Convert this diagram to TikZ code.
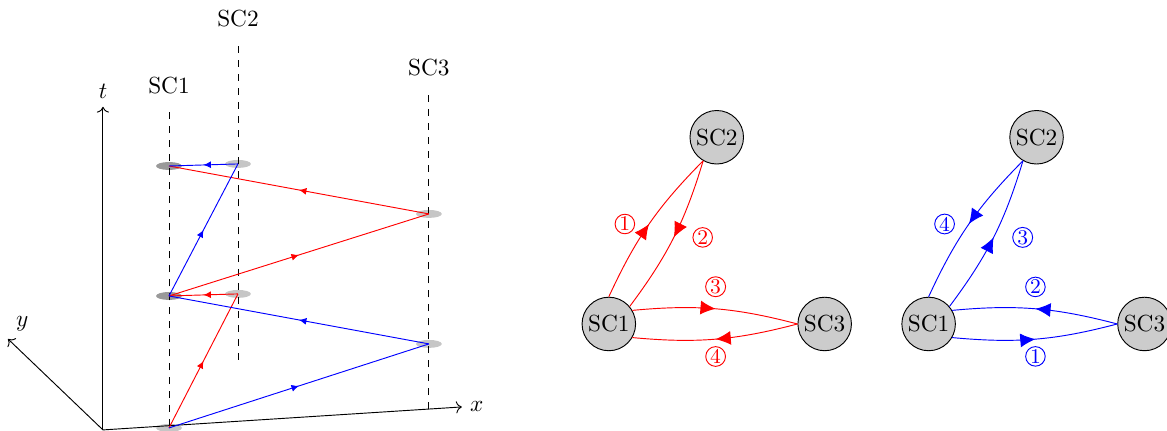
\documentclass[tikz,border=0pt]{standalone}
\usepackage{tikz}
\usetikzlibrary{positioning,arrows.meta,shapes.geometric,decorations.markings}

\begin{document}
\begin{tikzpicture}[
  ev/.style={ellipse, fill=gray!45, minimum width=3.9mm, minimum height=1.2mm, inner sep=0pt},
  evd/.style={ev, fill=gray!80},
  sc/.style={circle, draw, fill=gray!40, inner sep=1pt, minimum size=23pt},
  num/.style={circle, draw, inner sep=0.3pt, font=\small},
  marr/.style={postaction={decorate}, decoration={markings, mark=at position .5 with {\arrow{Latex[length=3.2pt,width=3pt]}}}},
  Marr/.style={postaction={decorate}, decoration={markings, mark=at position .5 with {\arrow{Latex[length=6.5pt,width=6pt]}}}}
]
\useasboundingbox (-1.555,-0.015) rectangle (16.07,6.493);

% events in the x-t plane
\node[ev]  (A0) at (0.997,0.03) {};
\node[evd] (A1) at (0.997,2.023) {};
\node[evd] (A2) at (0.997,3.986) {};
\node[ev]  (B1) at (2.039,2.054) {};
\node[ev]  (B2) at (2.039,4.017) {};
\node[ev]  (C1) at (4.923,1.299) {};
\node[ev]  (C2) at (4.923,3.262) {};

% axes
\coordinate (O) at (0,0);
\coordinate (tend) at (0,4.88);
\coordinate (xend) at (5.42,0.347);
\coordinate (yend) at (-1.435,1.374);
\draw[->] (O) -- (tend) node[above] {$t$};
\draw[->] (O) -- (xend) node[right] {$x$};
\draw[->] (O) -- (yend) node[above right] {$y$};

% world lines
\coordinate (s1b) at (0.997,0.06);
\coordinate (s1t) at (0.997,4.877);
\coordinate (s2b) at (2.039,1.057);
\coordinate (s2t) at (2.039,5.889);
\coordinate (s3b) at (4.923,0.315);
\coordinate (s3t) at (4.923,5.149);
\draw[dashed] (s1b) -- (s1t) node[above=2pt] {SC1};
\draw[dashed] (s2b) -- (s2t) node[above=2pt] {SC2};
\draw[dashed] (s3b) -- (s3t) node[above=2pt] {SC3};

\foreach \a/\b/\c in {A0/B1/red, B1/A1/red, A1/C2/red, C2/A2/red,
                      A0/C1/blue, C1/A1/blue, A1/B2/blue, B2/A2/blue}
  \draw[\c, marr] (\a.center) -- (\b.center);

% first graph
\node[sc] (r1) at (7.64,1.60) {SC1};
\node[sc] (r2) at (9.27,4.42) {SC2};
\node[sc] (r3) at (10.90,1.60) {SC3};
\draw[red, Marr] (r1.north) to[bend left=10] node[num, pos=.5, left=6pt] {1} (r2.240);
\draw[red, Marr] (r2.240) to[bend left=10] node[num, pos=.5, right=8pt] {2} (r1.40);
\draw[red, Marr] (r1.30) to[bend left=10] node[num, above=5pt] {3} (r3.west);
\draw[red, Marr] (r3.west) to[bend left=10] node[num, below=3pt] {4} (r1.-30);

% second graph
\node[sc] (b1) at (12.47,1.60) {SC1};
\node[sc] (b2) at (14.10,4.42) {SC2};
\node[sc] (b3) at (15.73,1.60) {SC3};
\draw[blue, Marr] (b2.240) to[bend right=10] node[num, pos=.5, left=6pt] {4} (b1.north);
\draw[blue, Marr] (b1.40) to[bend right=10] node[num, pos=.5, right=8pt] {3} (b2.240);
\draw[blue, Marr] (b3.west) to[bend right=10] node[num, above=5pt] {2} (b1.30);
\draw[blue, Marr] (b1.-30) to[bend right=10] node[num, below=3pt] {1} (b3.west);
\end{tikzpicture}
\end{document}
